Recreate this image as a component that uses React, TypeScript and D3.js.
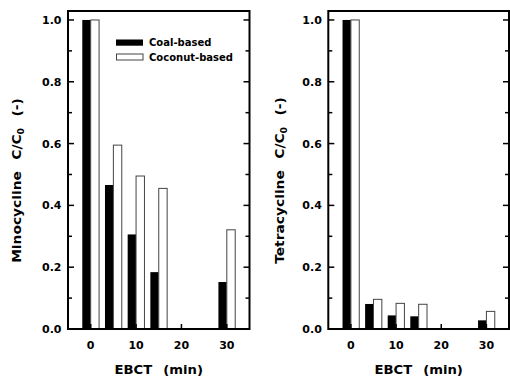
import React from "react";
import * as d3 from "d3";

const ebct = [0, 5, 10, 15, 30];
const minoCoal = [1.0, 0.466, 0.306, 0.184, 0.152];
const minoCoconut = [1.0, 0.595, 0.495, 0.455, 0.321];
const tetraCoal = [1.0, 0.081, 0.044, 0.041, 0.028];
const tetraCoconut = [1.0, 0.096, 0.083, 0.08, 0.057];
const xTicks = [0, 10, 20, 30];
const yMajor = [0, 0.2, 0.4, 0.6, 0.8, 1.0];
const yMinor = [0.1, 0.3, 0.5, 0.7, 0.9];
const seriesNames = ["Coal-based", "Coconut-based"];

const FONT = "'DejaVu Sans', sans-serif";
const BAR_W = 1.85;

type PanelProps = {
  x0: number;
  x1: number;
  coal: number[];
  coconut: number[];
  drug: string;
  titleX: number;
  legend?: boolean;
};

function Panel({ x0, x1, coal, coconut, drug, titleX, legend }: PanelProps) {
  const top = 11;
  const bottom = 329;
  const x = d3.scaleLinear().domain([-5, 35]).range([x0, x1]);
  const y = d3.scaleLinear().domain([0, 1.029]).range([bottom, top]);
  const cx = (x0 + x1) / 2;
  const cy = 180.5;
  return (
    <g>
      {ebct.map((e, i) => (
        <g key={i}>
          <rect
            x={x(e - BAR_W)}
            y={y(coal[i])}
            width={x(e) - x(e - BAR_W)}
            height={y(0) - y(coal[i])}
            fill="#000"
          />
          <rect
            x={x(e)}
            y={y(coconut[i])}
            width={x(e + BAR_W) - x(e)}
            height={y(0) - y(coconut[i])}
            fill="#fff"
            stroke="#444"
            strokeWidth={1}
          />
        </g>
      ))}
      <rect x={x0} y={top} width={x1 - x0} height={bottom - top} fill="none" stroke="#000" strokeWidth={2} />
      {yMajor.map((v) => (
        <g key={"M" + v}>
          <line x1={x0} x2={x0 + 6} y1={y(v)} y2={y(v)} stroke="#000" strokeWidth={1.5} />
          <line x1={x1} x2={x1 - 6} y1={y(v)} y2={y(v)} stroke="#000" strokeWidth={1.5} />
          <text
            x={x0 - 6.5}
            y={y(v)}
            dy="0.36em"
            textAnchor="end"
            fontFamily={FONT}
            fontWeight="bold"
            fontSize={11}
          >
            {d3.format(".1f")(v)}
          </text>
        </g>
      ))}
      {yMinor.map((v) => (
        <g key={"m" + v}>
          <line x1={x0} x2={x0 + 4} y1={y(v)} y2={y(v)} stroke="#000" strokeWidth={1.5} />
          <line x1={x1} x2={x1 - 4} y1={y(v)} y2={y(v)} stroke="#000" strokeWidth={1.5} />
        </g>
      ))}
      {xTicks.map((t) => (
        <g key={"x" + t}>
          <line x1={x(t)} x2={x(t)} y1={bottom} y2={bottom - 5} stroke="#000" strokeWidth={1.5} />
          <text x={x(t)} y={349} textAnchor="middle" fontFamily={FONT} fontWeight="bold" fontSize={11}>
            {t}
          </text>
        </g>
      ))}
      <text
        transform={`translate(${cx},374) scale(1.1,1)`}
        textAnchor="middle"
        fontFamily={FONT}
        fontWeight="bold"
        fontSize={12}
      >
        <tspan>EBCT</tspan>
        <tspan dx={10}>(min)</tspan>
      </text>
      <text
        transform={`translate(${titleX},${cy}) rotate(-90) scale(1.15,1)`}
        textAnchor="middle"
        fontFamily={FONT}
        fontWeight="bold"
        fontSize={12}
      >
        <tspan>{drug}</tspan>
        <tspan dx={10}>C/C</tspan>
        <tspan dy={3} fontSize={8}>0</tspan>
        <tspan dy={-3} dx={10}>(-)</tspan>
      </text>
      {legend && (
        <g>
          <rect x={116} y={39.5} width={27} height={6.2} fill="#000" />
          <text x={149} y={46} fontFamily={FONT} fontWeight="bold" fontSize={10}>
            {seriesNames[0]}
          </text>
          <rect x={116.5} y={54} width={26.5} height={6} fill="#fff" stroke="#444" strokeWidth={1} />
          <text x={149} y={60.6} fontFamily={FONT} fontWeight="bold" fontSize={10}>
            {seriesNames[1]}
          </text>
        </g>
      )}
    </g>
  );
}

export default function App() {
  return (
    <svg
      width={510}
      height={381}
      style={{ position: "absolute", left: 0, top: 0, background: "#fff" }}
    >
      <rect x={0} y={0} width={510} height={381} fill="#fff" />
      <Panel x0={68} x1={249.5} coal={minoCoal} coconut={minoCoconut} drug="Minocycline" titleX={20.7} legend />
      <Panel x0={328.3} x1={509} coal={tetraCoal} coconut={tetraCoconut} drug="Tetracycline" titleX={283.5} />
    </svg>
  );
}
